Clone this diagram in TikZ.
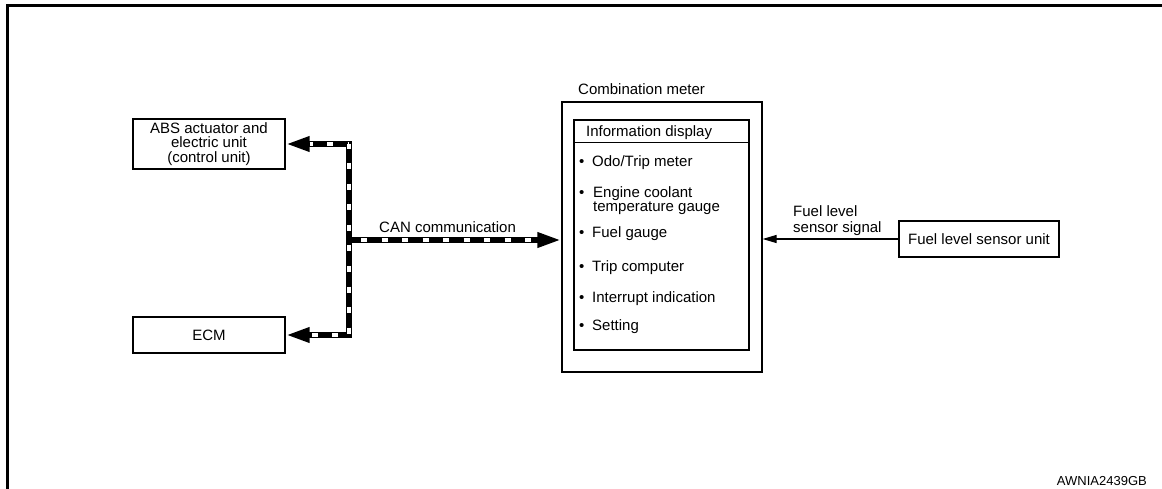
\documentclass[tikz,border=0pt]{standalone}
\usepackage{fontspec}
\setmainfont{Liberation Sans}
\usetikzlibrary{arrows.meta}
\tikzset{bustip/.tip={Triangle[length=24pt,width=14pt]}}
\begin{document}
\begin{tikzpicture}[x=1pt,y=-1pt,
  box/.style={draw, line width=1.2pt, inner sep=0pt, align=center, font=\fontsize{15}{14.5}\selectfont},
  lbl/.style={anchor=base west, inner sep=0pt, font=\fontsize{15}{14.5}\selectfont},
  busblack/.style={line width=6.5pt, line join=miter},
  buswhite/.style={white, line width=4.5pt, dash pattern=on 6pt off 14.5pt},
  sig/.style={line width=1.2pt, -{Triangle[length=14pt,width=8pt]}}]
\useasboundingbox (0,0) rectangle (1162,489);
% frame
\draw[line width=3pt, line join=miter] (7.5,489) -- (7.5,5.5) -- (1162,5.5);
% boxes
\node[box, minimum width=152pt, minimum height=50pt] (abs) at (209,144) {ABS actuator and\\electric unit\\(control unit)};
\node[box, minimum width=152pt, minimum height=36pt] (ecm) at (209,335) {ECM};
\node[box, minimum width=160pt, minimum height=36pt] (fuel) at (979,239) {Fuel level sensor unit};
\node[box, minimum width=200pt, minimum height=270pt] (outer) at (662,237) {};
\node[box, minimum width=175pt, minimum height=230pt] (inner) at (661.5,235) {};
\draw[line width=1.2pt] ([yshift=-23pt]inner.north west) -- ([yshift=-23pt]inner.north east);
% labels
\node[lbl] (cm) at (578,95) {Combination meter};
\node[lbl] (id) at (586,137) {Information display};
\node[lbl] (d1) at (579,167) {•};
\node[lbl] (i1) at (592,167) {Odo/Trip meter};
\node[lbl] (d2) at (579,198) {•};
\node[lbl] (i2) at (593,198) {Engine coolant};
\node[lbl] (i2b) at (593,212) {temperature gauge};
\node[lbl] (d3) at (579,238) {•};
\node[lbl] (i3) at (592,238) {Fuel gauge};
\node[lbl] (d4) at (579,272) {•};
\node[lbl] (i4) at (592,272) {Trip computer};
\node[lbl] (d5) at (579,302) {•};
\node[lbl] (i5) at (592,302) {Interrupt indication};
\node[lbl] (d6) at (579,330) {•};
\node[lbl] (i6) at (592,330) {Setting};
\node[lbl] (can) at (379,233) {CAN communication};
\node[lbl] (fl1) at (793,217) {Fuel level};
\node[lbl] (fl2) at (793,233) {sensor signal};
\node[anchor=base east, inner sep=0pt, font=\fontsize{13}{13}\selectfont] (code) at (1147,485) {AWNIA2439GB};
% bus
\coordinate (tA) at (349,144);
\coordinate (tE) at (349,335);
\coordinate (j) at (349,240);
\draw[busblack, bustip-bustip] (abs.east) -- (tA) -- (tE) -- (ecm.east);
\draw[busblack, -bustip] (j) -- (j -| outer.west);
\draw[buswhite, shorten <=24pt, dash phase=3pt] (abs.east) -- (tA);
\draw[buswhite, dash phase=1pt] (tA) -- (tE);
\draw[buswhite, shorten >=24pt, dash phase=-11pt] (tE) -- (ecm.east);
\draw[buswhite, shorten >=22pt, dash phase=-12pt] (j) -- (j -| outer.west);
% fuel signal
\draw[sig] (fuel.west) -- (fuel.west -| outer.east);
\end{tikzpicture}
\end{document}
